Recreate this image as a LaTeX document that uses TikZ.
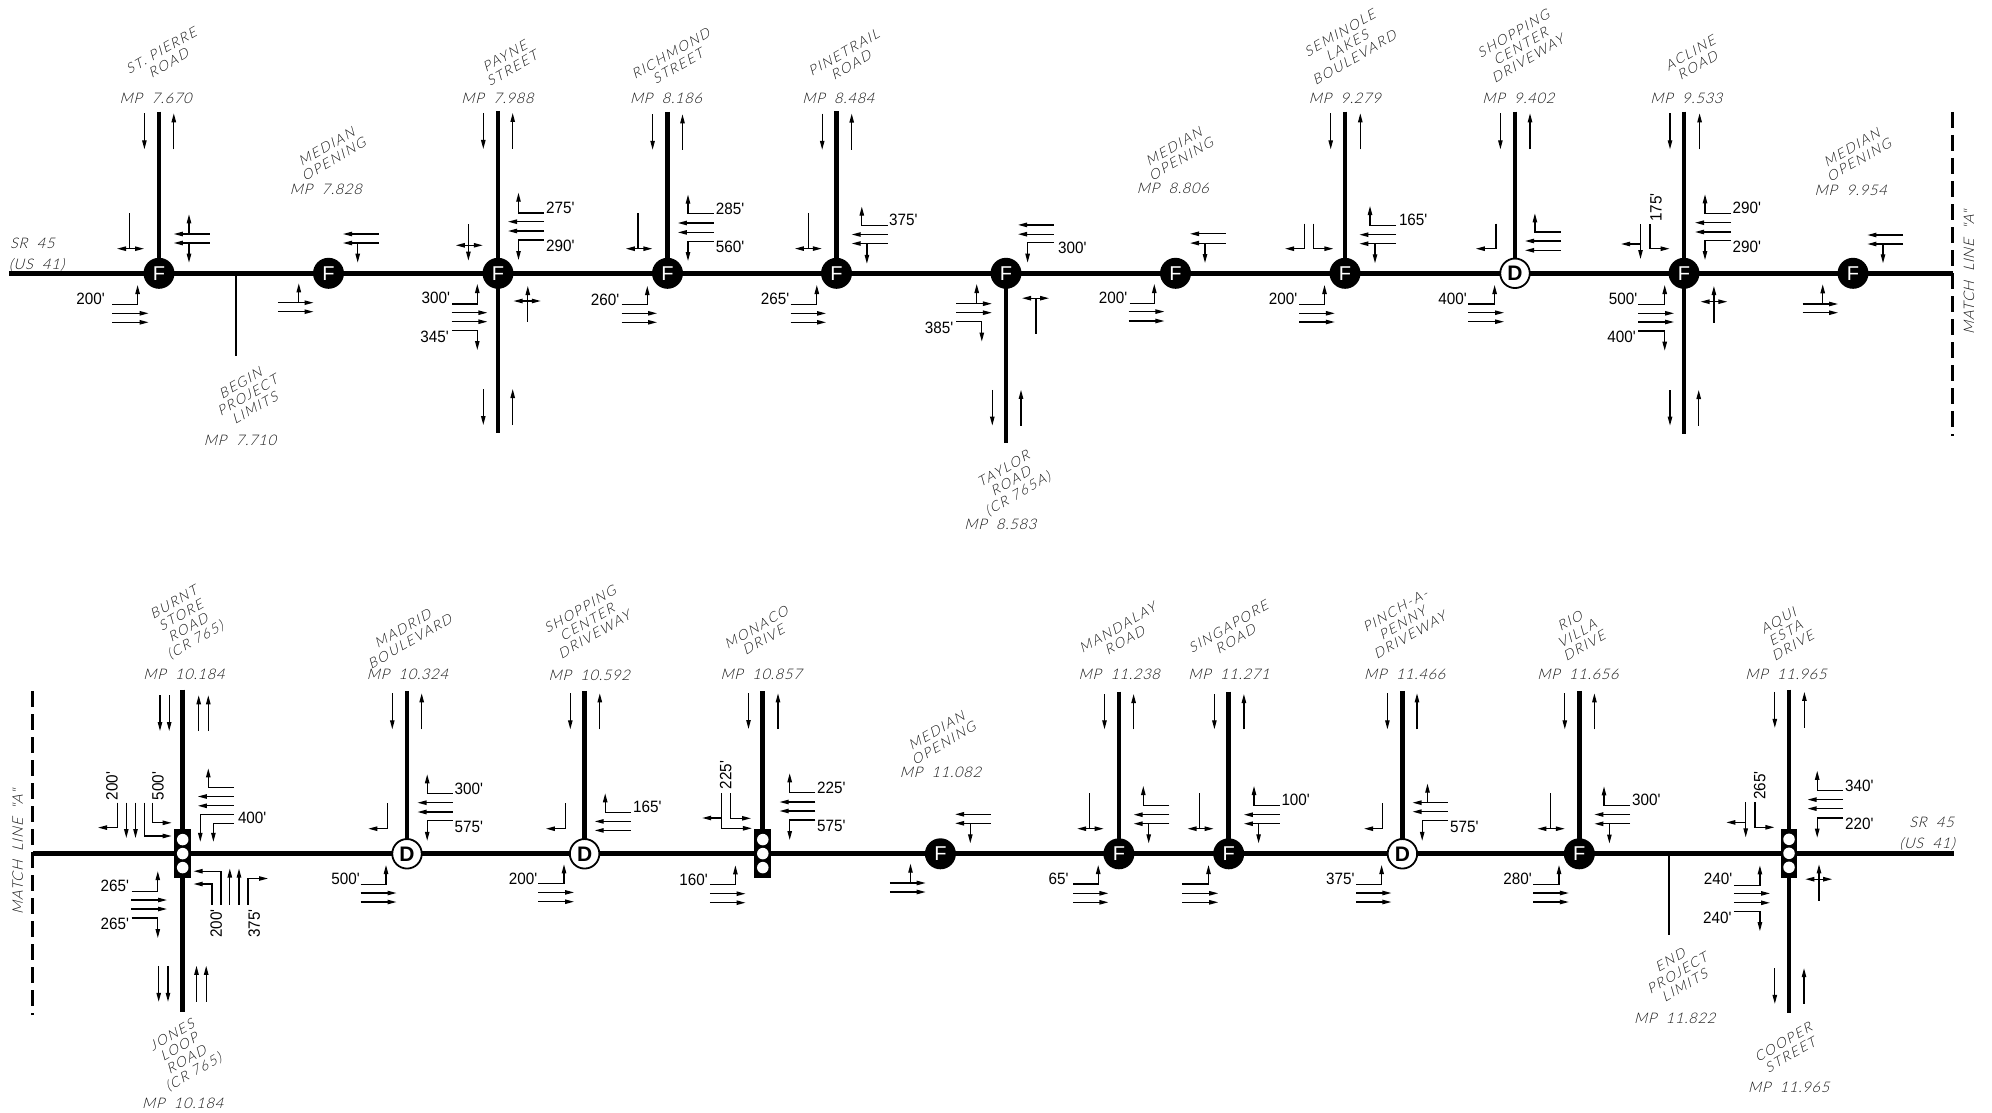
\documentclass[tikz,border=0pt]{standalone}
\usepackage{fontspec}
\usetikzlibrary{arrows.meta}
\setmainfont{Liberation Sans}
\newfontfamily\dimf[FakeStretch=.93]{Liberation Sans}
\newfontfamily\isof[FakeSlant=.25,LetterSpace=12]{Lato Light}
\newfontfamily\isom[FakeSlant=.25,LetterSpace=5]{Lato Light}
\newcounter{dn}\newcounter{ln}
\tikzset{
 road/.style={line width=4.8pt},
 fnode/.style={circle,fill=black,text=white,inner sep=0pt,minimum size=31pt,font=\fontsize{20}{20}\selectfont},
 dnode/.style={circle,draw=black,line width=1.8pt,fill=white,text=black,inner sep=0pt,minimum size=29.5pt,font=\bfseries\fontsize{21}{21}\selectfont},
 sigbox/.style={rectangle,fill=black,inner sep=0pt,minimum width=16.8pt,minimum height=48.5pt},
 lamp/.style={circle,fill=white,inner sep=0pt,minimum size=11.5pt},
 ar/.style={line width=1.2pt,-{Triangle[length=9pt,width=4.4pt]}},
 dblar/.style={line width=1.2pt,{Triangle[length=9pt,width=4.4pt]}-{Triangle[length=9pt,width=4.4pt]}},
 stem/.style={line width=1.2pt},
 limit/.style={line width=1.7pt},
 matchl/.style={line width=3pt,dash pattern=on 16pt off 7pt},
 dimt/.style={inner sep=0pt,font=\dimf\fontsize{16.4}{16.4}\selectfont},
 lbl/.style={inner sep=0pt,align=center,rotate=30,text=black!90,font=\isof\fontsize{13.8}{14.4}\selectfont},
 mpl/.style={inner sep=0pt,text=black!90,font=\isom\fontsize{14.6}{14}\selectfont},
}
% straight arrow, two arrows, double headed, L-shapes
\newcommand\Ar[4]{\draw[ar] (#1,#2)--(#3,#4);}
\newcommand\HHa[4]{\draw[ar] (#1,#3)--(#2,#3);\draw[ar] (#1,#4)--(#2,#4);}
\newcommand\DDa[3]{\draw[dblar] (#1,#3)--(#2,#3);}
\newcommand\SLa[3]{\draw[stem] (#1,#2)--(#1,#3);}
\newcommand\THa[4]{\draw[ar] (#1,#2)--(#3,#2)--(#3,#4);}
\newcommand\TVa[4]{\draw[ar] (#1,#2)--(#1,#4)--(#3,#4);}
\newcommand\dE[3]{\stepcounter{dn}\node[dimt,anchor=east] (d\arabic{dn}) at (#1,#2) {#3};}
\newcommand\dW[3]{\stepcounter{dn}\node[dimt,anchor=west] (d\arabic{dn}) at (#1,#2) {#3};}
\newcommand\dR[3]{\stepcounter{dn}\node[dimt,rotate=90] (d\arabic{dn}) at (#1,#2) {#3};}
\newcommand\nm[3]{\stepcounter{ln}\node[lbl] (n\arabic{ln}) at (#1,#2) {#3};}
\newcommand\nmb[3]{\stepcounter{ln}\node[lbl,yshift=-3.5pt] (n\arabic{ln}) at (#1,#2) {#3};}
\newcommand\mpt[3]{\stepcounter{ln}\node[mpl] (n\arabic{ln}) at (#1,#2) {MP\ \ #3};}
\newcommand\Sig[3]{\node[sigbox] (#1) at (#2,#3) {};
 \node[lamp] (#1a) at (#2,#3-14) {};\node[lamp] (#1b) at (#2,#3) {};\node[lamp] (#1c) at (#2,#3+14) {};}
\begin{document}
\begin{tikzpicture}[x=1pt,y=-1pt]
\useasboundingbox (0,0) rectangle (1992,1113);
\fill[white] (0,0) rectangle (1992,1113);
% ---------- top row roads
\coordinate (tw) at (9,273.3);\coordinate (te) at (1953,273.3);
\draw[road] (tw)--(te);
\foreach \nn/\xx/\yy in {a1/159/111.7,a3/498/111,a4/667.5/112,a5/836.5/111.2,a8/1345/111.7,a9/1515/111.7,a10/1684/111.7}
 {\coordinate (\nn t) at (\xx,\yy);\coordinate (\nn m) at (\xx,273.3);\draw[road] (\nn t)--(\nn m);}
\coordinate (a3b) at (498,433.3);\coordinate (a6b) at (1006,442.5);\coordinate (a10b) at (1684,434.3);
\coordinate (a3m) at (498,273.3);\coordinate (a6m) at (1006,273.3);\coordinate (a10m) at (1684,273.3);
\draw[road] (a3m)--(a3b);\draw[road] (a6m)--(a6b);\draw[road] (a10m)--(a10b);
\node[fnode] (I1) at (159,273.3) {F};
\node[fnode] (I2) at (328.5,273.3) {F};
\node[fnode] (I3) at (498,273.3) {F};
\node[fnode] (I4) at (667.5,273.3) {F};
\node[fnode] (I5) at (836.5,273.3) {F};
\node[fnode] (I6) at (1006,273.3) {F};
\node[fnode] (I7) at (1175.5,273.3) {F};
\node[fnode] (I8) at (1345,273.3) {F};
\node[dnode] (I9) at (1515,273.3) {D};
\node[fnode] (I10) at (1684,273.3) {F};
\node[fnode] (I11) at (1853,273.3) {F};
% begin limits
\coordinate (bl) at (235.7,273.3);\coordinate (blb) at (235.7,356);\draw[limit] (bl)--(blb);
% match line
\coordinate (ml1) at (1952.5,112);\coordinate (ml2) at (1952.5,436);\draw[matchl] (ml1)--(ml2);
% I1
\Ar{144.4}{113.3}{144.4}{149.3}\Ar{173.8}{149.3}{173.8}{113.3}
\SLa{129.6}{213.3}{248.7}\DDa{117}{144}{248.7}
\HHa{209.6}{173.8}{234}{243}\Ar{189}{234}{189}{214.3}\Ar{189}{243}{189}{262.7}
\THa{112.4}{304.3}{137.6}{285}\HHa{112.4}{148.6}{313.3}{322.3}\dE{105}{299.3}{200'}
% I2
\HHa{378.8}{343}{234}{243}\Ar{357.7}{243}{357.7}{262.7}
\HHa{277.8}{313.5}{302.7}{311.7}\Ar{298.8}{302.7}{298.8}{283.3}
% I3
\Ar{483.3}{113}{483.3}{149}\Ar{512.7}{149}{512.7}{113}\Ar{483.3}{389}{483.3}{425}\Ar{512.7}{425}{512.7}{389}
\Ar{468.4}{224}{468.4}{260.7}\DDa{455.8}{482.8}{245.3}
\THa{543.8}{213}{518.5}{192.7}\HHa{544}{508}{221.7}{231}\THa{543.8}{240}{518.5}{260}
\dW{545.9}{207.7}{275'}\dW{545.9}{246}{290'}
\THa{452.4}{304}{477.3}{284}\HHa{451.6}{487.4}{312.7}{321.7}\THa{452.4}{330.7}{477.3}{350}
\dE{450.3}{298.3}{300'}\dE{449}{336.7}{345'}
\Ar{527.8}{321.7}{527.8}{286}\DDa{513.5}{540.8}{301}
% I4
\Ar{652.6}{114.3}{652.6}{149.8}\Ar{682.5}{149.8}{682.5}{114.3}
\SLa{638}{213.3}{248.7}\DDa{625.8}{652.4}{248.7}
\THa{713.7}{213.8}{688}{194.6}\HHa{713.7}{677.9}{223}{232.4}\THa{713.7}{241.4}{688}{261}
\dW{715.7}{208.7}{285'}\dW{715.7}{247}{560'}
\THa{621.6}{304.3}{647.3}{286}\HHa{621.6}{657}{313.3}{322.3}\dE{619.5}{299.5}{260'}
% I5
\Ar{822.2}{113.6}{822.2}{149.8}\Ar{851.7}{149.8}{851.7}{113.6}
\SLa{808.4}{212.8}{248.6}\DDa{794.9}{821.8}{248.6}
\HHa{887.5}{851.7}{234.5}{243.5}\THa{887.5}{225.2}{861.8}{206.6}\Ar{866.9}{243.5}{866.9}{263.8}
\dW{889}{219.7}{375'}
\THa{790.7}{304.4}{816.8}{285}\HHa{790.7}{826}{313.4}{322.3}\dE{789.4}{299}{265'}
% I6
\HHa{1053.7}{1018}{224.9}{234.2}\THa{1053.7}{242.8}{1027.6}{262.7}\dW{1058}{248}{300'}
\HHa{956}{991.9}{303.7}{312.7}\Ar{976.7}{303.7}{976.7}{284}\THa{956}{321.6}{981.8}{341.6}\dE{953.5}{327.8}{385'}
\SLa{1036}{298.2}{334}\DDa{1022}{1049}{298.2}
\Ar{992.3}{389.8}{992.3}{425.6}\Ar{1021}{425.6}{1021}{389.8}
% I7
\HHa{1225.8}{1190}{233.8}{243.1}\Ar{1205}{243.1}{1205}{263}
\THa{1129.5}{303.4}{1154.3}{284}\HHa{1128.6}{1164.4}{311.6}{321}\dE{1127.4}{297.9}{200'}
% I8
\Ar{1330.7}{113.3}{1330.7}{149.3}\Ar{1360.3}{149.3}{1360.3}{113.3}
\TVa{1304.3}{223.7}{1285}{248.7}\TVa{1313.3}{223.7}{1333.4}{248.7}
\THa{1396}{225.7}{1370}{206}\HHa{1396}{1359.4}{234.7}{243.7}\Ar{1375}{243.7}{1375}{263.3}\dW{1398.8}{220.3}{165'}
\THa{1299}{304.3}{1324.5}{285}\HHa{1299}{1334.8}{313.3}{322}\dE{1297.4}{299}{200'}
% I9
\Ar{1500.4}{113.3}{1500.4}{149.3}\Ar{1530}{149.3}{1530}{113.3}
\TVa{1496}{223.7}{1475.8}{248.7}
\THa{1560.8}{232}{1534.9}{213.3}\HHa{1560.8}{1525}{241}{250.3}
\THa{1468}{304}{1494.6}{285}\HHa{1468}{1504}{312.7}{321.7}\dE{1467}{298.7}{400'}
% I10
\Ar{1670}{113.3}{1670}{149.3}\Ar{1699.6}{149.3}{1699.6}{113.3}
\dR{1656}{207.3}{175'}\TVa{1650}{224}{1669.6}{248.7}\Ar{1640.5}{224}{1640.5}{259}\Ar{1640.5}{244}{1621}{244}
\THa{1731}{213.3}{1705}{194.3}\HHa{1731}{1695}{222.7}{232}\THa{1731}{240.3}{1705}{260}
\dW{1732.5}{208.3}{290'}\dW{1732.5}{246.7}{290'}
\THa{1638}{304.3}{1664.7}{285}\HHa{1638}{1674}{313.3}{322}\THa{1638}{331}{1664.7}{350.7}
\dE{1637.4}{299}{500'}\dE{1636}{337.3}{400'}
\Ar{1713.9}{322.7}{1713.9}{286}\DDa{1700.5}{1727.3}{301.7}
\Ar{1670}{390}{1670}{425.7}\Ar{1698.7}{425.7}{1698.7}{390}
% I11
\HHa{1903}{1867.4}{235}{244}\Ar{1883}{244}{1883}{263.3}
\HHa{1802.5}{1838}{304}{312.7}\Ar{1822.7}{304}{1822.7}{284.3}
% top labels
\mpt{155.7}{98.3}{7.670}\mpt{497.5}{98.3}{7.988}\mpt{666}{98.3}{8.186}\mpt{838.4}{98.3}{8.484}
\mpt{1344.8}{98.5}{9.279}\mpt{1518.3}{98.5}{9.402}\mpt{1686.4}{98}{9.533}
\mpt{325.8}{189}{7.828}\mpt{1172.8}{188.4}{8.806}\mpt{1850.7}{190}{9.954}
\mpt{1000.3}{524.4}{8.583}\mpt{240}{440}{7.710}
\nmb{163}{53.8}{ST. PIERRE\\ROAD}
\nmb{506.7}{59.3}{PAYNE\\STREET}
\nmb{672.5}{57}{RICHMOND\\STREET}
\nmb{845.5}{56}{PINETRAIL\\ROAD}
\nmb{328.3}{150.3}{MEDIAN\\OPENING}
\nmb{1175.6}{149.8}{MEDIAN\\OPENING}
\nmb{1853.6}{150.8}{MEDIAN\\OPENING}
\nm{1347}{45.5}{SEMINOLE\\LAKES\\BOULEVARD}
\nm{1520.5}{46.2}{SHOPPING\\CENTER\\DRIVEWAY}
\nmb{1692}{56.3}{ACLINE\\ROAD}
\nm{1011}{482}{TAYLOR\\ROAD\\(CR 765A)}
\nm{247.5}{395.5}{BEGIN\\PROJECT\\LIMITS}
\stepcounter{ln}\node[mpl,anchor=west] (n\arabic{ln}) at (10,243.3) {SR\ \ 45};
\stepcounter{ln}\node[mpl,anchor=west] (n\arabic{ln}) at (9,265) {(US\ \ 41)};
\stepcounter{ln}\node[mpl,rotate=90] (n\arabic{ln}) at (1969,272.5) {MATCH\ \ LINE\ \ "A"};
% ---------- bottom row roads
\coordinate (bw) at (32.8,853.8);\coordinate (be) at (1954,853.8);
\draw[road] (bw)--(be);
\foreach \nn/\xx/\yy in {b1/182.7/689.5,b2/407/690.8,b3/584.6/690.8,b4/762.8/691,b6/1118.9/691.7,b7/1228.7/691.7,b8/1402.4/690.8,b9/1579.3/690.8,b10/1789/689.5}
 {\coordinate (\nn t) at (\xx,\yy);\coordinate (\nn m) at (\xx,853.8);\draw[road] (\nn t)--(\nn m);}
\coordinate (b1b) at (182.7,1011.5);\coordinate (b10b) at (1789,1012.5);
\coordinate (b1m) at (182.7,853.8);\coordinate (b10m) at (1789,853.8);
\draw[road] (b1m)--(b1b);\draw[road] (b10m)--(b10b);
\Sig{S1}{182.7}{853.6}
\node[dnode] (J2) at (407,853.8) {D};
\node[dnode] (J3) at (584.6,853.8) {D};
\Sig{S4}{762.8}{853.6}
\node[fnode] (J5) at (940.4,853.8) {F};
\node[fnode] (J6) at (1118.9,853.8) {F};
\node[fnode] (J7) at (1228.7,853.8) {F};
\node[dnode] (J8) at (1402.4,853.8) {D};
\node[fnode] (J9) at (1579.3,853.8) {F};
\Sig{S10}{1789}{853.3}
\coordinate (el) at (1669,853.8);\coordinate (elb) at (1669,934.6);\draw[limit] (el)--(elb);
\coordinate (ml3) at (32.8,691.2);\coordinate (ml4) at (32.8,1015);\draw[matchl] (ml3)--(ml4);
% J1
\Ar{160}{695.3}{160}{731}\Ar{169.2}{695.3}{169.2}{731}\Ar{198.7}{731}{198.7}{695.3}\Ar{208.3}{731}{208.3}{695.3}
\Ar{158.7}{965.8}{158.7}{1001.8}\Ar{168}{965.8}{168}{1001.8}\Ar{196.5}{1001.8}{196.5}{965.8}\Ar{206.2}{1001.8}{206.2}{965.8}
\TVa{117.4}{802.7}{98}{827.6}\dR{112}{786}{200'}
\Ar{126.3}{802.7}{126.3}{838}\Ar{135.5}{802.7}{135.5}{838}
\TVa{144.4}{802.7}{171.7}{836}\TVa{152.8}{802.7}{171.7}{822.8}\dR{158}{786}{500'}
\THa{233.6}{787.5}{208.3}{768.4}\HHa{233.6}{197.8}{796.5}{805.8}
\THa{233.6}{814.5}{200.3}{841.8}\THa{233.6}{823.1}{213.4}{841.8}\dW{237.8}{817.6}{400'}
\TVa{221}{904.8}{193.6}{871.2}\TVa{212}{904.8}{193.6}{884}
\Ar{229.8}{904.8}{229.8}{868.5}\Ar{239}{904.8}{239}{868.5}\TVa{247.9}{904.8}{268}{878.5}
\dR{216.3}{923.5}{200'}\dR{254.2}{923.5}{375'}
\THa{131.7}{891.3}{157.8}{871.2}\HHa{131.3}{167}{900}{909}\THa{131.7}{918}{157.8}{938}
\dE{129.2}{885.8}{265'}\dE{129.2}{924.2}{265'}
% J2
\Ar{392.3}{693.3}{392.3}{729.3}\Ar{421.7}{729.3}{421.7}{693.3}
\TVa{387.6}{803}{368.3}{828.7}
\THa{452.9}{793.7}{427.2}{774.3}\HHa{452.9}{417.5}{802.7}{812}\THa{452.9}{820.7}{427.2}{840.8}
\dW{454.5}{788.5}{300'}\dW{454.5}{826.9}{575'}
\THa{360.7}{884.4}{386}{865}\HHa{360.7}{396.5}{893}{902}\dE{360}{879.2}{500'}
% J3
\Ar{570.3}{693.3}{570.3}{729.3}\Ar{599.8}{729.3}{599.8}{693.3}
\TVa{565.2}{803}{545.9}{828.7}
\THa{630.9}{812.4}{605.2}{793.3}\HHa{630.9}{594.7}{821.4}{830.4}\dW{633}{806.8}{165'}
\THa{538.3}{883.7}{564}{864.3}\HHa{538.3}{574}{892.4}{901.7}\dE{537.5}{878.5}{200'}
% J4
\Ar{748.5}{693.3}{748.5}{729}\Ar{778}{729}{778}{693.3}
\TVa{721.5}{793.3}{751.9}{828.3}\Ar{721.5}{818}{702.2}{818}\TVa{730.4}{793.3}{751}{818.3}\dR{725.8}{775}{225'}
\THa{815.4}{792.7}{789.7}{773.3}\HHa{815.4}{779.6}{802}{811}\THa{815.4}{820}{789.7}{840}
\dW{817}{788}{225'}\dW{817}{826}{575'}
\THa{709.8}{884.7}{735.4}{865.3}\HHa{709.8}{745.5}{893.7}{902.7}\dE{708}{880}{160'}
% J5
\HHa{990.9}{955.1}{814.3}{823.3}\Ar{970.3}{823.3}{970.3}{843.3}
\HHa{889.9}{925.7}{883}{892}\Ar{910.5}{883}{910.5}{863.7}
% J6
\Ar{1104.5}{694}{1104.5}{729.3}\Ar{1133.6}{729.3}{1133.6}{694}
\SLa{1089.8}{793.3}{828.7}\DDa{1077.2}{1103.7}{828.7}
\THa{1169.4}{805.7}{1143.3}{786}\HHa{1169.4}{1133.6}{814.7}{823.7}\Ar{1148.7}{823.7}{1148.7}{843.3}
\THa{1073}{884}{1098.2}{865}\HHa{1073}{1108.4}{893.3}{902.3}\dE{1068.8}{879}{65'}
% J7
\Ar{1214.4}{694}{1214.4}{729.3}\Ar{1243.9}{729.3}{1243.9}{694}
\SLa{1199.6}{793.3}{828.7}\DDa{1187.5}{1213.6}{828.7}
\THa{1279.6}{805.3}{1254}{786}\HHa{1279.6}{1243.9}{814.7}{823.7}\Ar{1258.6}{823.7}{1258.6}{843.3}\dW{1281.3}{800}{100'}
\THa{1182.4}{884}{1208.5}{865}\HHa{1182.4}{1218.2}{893.3}{902.3}
% J8
\Ar{1387.4}{693.3}{1387.4}{729.3}\Ar{1417}{729.3}{1417}{693.3}
\TVa{1382.5}{803}{1364}{828.7}
\HHa{1447.8}{1412.5}{802.7}{811.7}\Ar{1427.5}{802.7}{1427.5}{783.6}\THa{1447.8}{820.7}{1422.2}{840.8}\dW{1450}{826.6}{575'}
\THa{1356}{884.4}{1381.6}{865}\HHa{1356}{1391.4}{893}{902}\dE{1354.7}{878.9}{375'}
% J9
\Ar{1564.8}{693.3}{1564.8}{729.3}\Ar{1594.4}{729.3}{1594.4}{693.3}
\SLa{1550.2}{793.3}{828.7}\DDa{1537.4}{1564.8}{828.7}
\THa{1630}{805.5}{1604}{786.4}\HHa{1630}{1594.4}{814.5}{823.8}\Ar{1609.4}{823.8}{1609.4}{843.5}\dW{1631.9}{799.9}{300'}
\THa{1533.4}{884.4}{1559}{865}\HHa{1533.4}{1568.8}{893}{902}\dE{1532}{879}{280'}
% J10
\Ar{1774.8}{691.9}{1774.8}{727.9}\Ar{1804.4}{727.9}{1804.4}{691.9}
\Ar{1774.8}{968.2}{1774.8}{1003.9}\Ar{1804}{1003.9}{1804}{968.2}
\dR{1759.8}{785.4}{265'}\TVa{1755}{802}{1774.4}{827.3}\Ar{1745.7}{802}{1745.7}{837.3}\Ar{1745.7}{822.4}{1726.3}{822.4}
\THa{1843.2}{790.6}{1817.2}{770.8}\HHa{1843.2}{1807.5}{799.6}{808.6}\THa{1843.2}{817.9}{1817.2}{837.7}
\dW{1845}{785.4}{340'}\dW{1845}{823.8}{220'}
\THa{1733.8}{885.4}{1759.9}{865.4}\HHa{1733.8}{1770}{893.4}{902.8}\THa{1733.8}{911.8}{1759.9}{931.2}
\dE{1732.5}{879.2}{240'}\dE{1731.6}{918}{240'}
\Ar{1819}{900.7}{1819}{864.3}\DDa{1805.3}{1832.2}{879.2}
% bottom labels
\mpt{183.9}{674.2}{10.184}\mpt{407.4}{674.2}{10.324}\mpt{589.2}{675}{10.592}\mpt{761.1}{674}{10.857}
\mpt{1119.3}{674.7}{11.238}\mpt{1229}{674.7}{11.271}\mpt{1404.8}{674.6}{11.466}\mpt{1578}{674.6}{11.656}
\mpt{1785.9}{673.9}{11.965}\mpt{940.4}{772.3}{11.082}\mpt{182.7}{1103.2}{10.184}\mpt{1788.7}{1087}{11.965}\mpt{1674.7}{1018}{11.822}
\nm{184.8}{622}{BURNT\\STORE\\ROAD\\(CR 765)}
\nmb{404.5}{632.3}{MADRID\\BOULEVARD}
\nm{587.1}{622}{SHOPPING\\CENTER\\DRIVEWAY}
\nmb{758}{630.8}{MONACO\\DRIVE}
\nmb{938.3}{734}{MEDIAN\\OPENING}
\nmb{1119.3}{631.2}{MANDALAY\\ROAD}
\nmb{1230}{630}{SINGAPORE\\ROAD}
\nm{1402.5}{623}{PINCH-A-\\PENNY\\DRIVEWAY}
\nm{1577}{633.5}{RIO\\VILLA\\DRIVE}
\nm{1785.4}{633}{AQUI\\ESTA\\DRIVE}
\nm{183}{1054}{JONES\\LOOP\\ROAD\\(CR 765)}
\nmb{1785}{1045.6}{COOPER\\STREET}
\nm{1677.3}{973}{END\\PROJECT\\LIMITS}
\stepcounter{ln}\node[mpl,anchor=east] (n\arabic{ln}) at (1954,822) {SR\ \ 45};
\stepcounter{ln}\node[mpl,anchor=east] (n\arabic{ln}) at (1955,843.5) {(US\ \ 41)};
\stepcounter{ln}\node[mpl,rotate=90] (n\arabic{ln}) at (17.7,852) {MATCH\ \ LINE\ \ "A"};
\end{tikzpicture}
\end{document}
